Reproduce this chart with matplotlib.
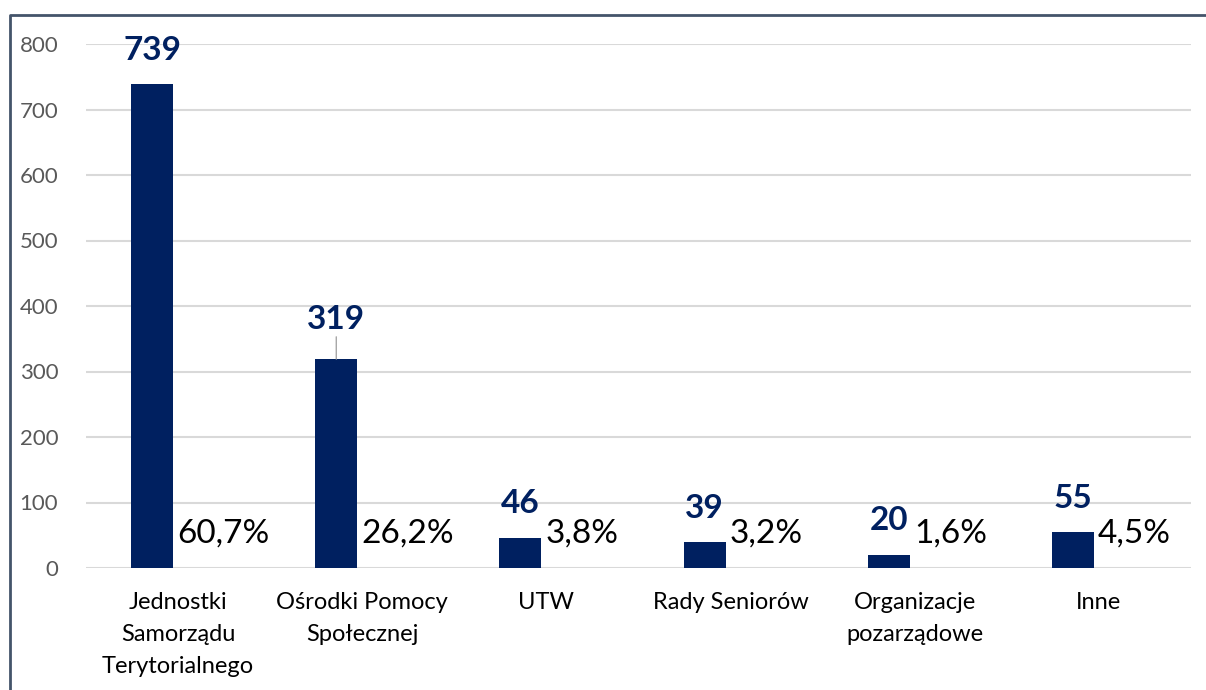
import matplotlib
matplotlib.use("Agg")
import matplotlib.pyplot as plt
from matplotlib.lines import Line2D
import numpy as np

categories = ["Jednostki\nSamorządu\nTerytorialnego", "Ośrodki Pomocy\nSpołecznej", "UTW",
              "Rady Seniorów", "Organizacje\npozarządowe", "Inne"]
values = [739, 319, 46, 39, 20, 55]
percent_labels = ["60,7%", "26,2%", "3,8%", "3,2%", "1,6%", "4,5%"]
yticks = [0, 100, 200, 300, 400, 500, 600, 700, 800]

plt.rcParams['font.family'] = ['Lato', 'DejaVu Sans']

W, H = 1206, 690
fig = plt.figure(figsize=(W / 100, H / 100), dpi=100)
ax = fig.add_axes([86 / W, 1 - 568 / H, (1191 - 86) / W, (568 - 44) / H])

navy = "#002060"
x = np.arange(len(categories))
bar_off = -0.141
bar_w = 0.228
ax.bar(x + bar_off, values, width=bar_w, color=navy, zorder=3)

for i, v in enumerate(values):
    if i == 1:
        ax.annotate(str(v), xy=(i + bar_off, v), xytext=(0, 18), textcoords="offset points",
                    ha="center", va="bottom", fontsize=24, fontweight="bold", color=navy,
                    arrowprops=dict(arrowstyle="-", color="#a6a6a6", lw=1, shrinkA=0, shrinkB=0),
                    zorder=4)
    else:
        ax.annotate(str(v), xy=(i + bar_off, v), xytext=(0, 14), textcoords="offset points",
                    ha="center", va="bottom", fontsize=24, fontweight="bold", color=navy, zorder=4)
    ax.annotate(percent_labels[i], xy=(i - 0.005, 0), xytext=(0, 25), textcoords="offset points",
                ha="left", va="center", fontsize=24, color="black", zorder=4)

ax.set_xlim(-0.5, len(categories) - 0.5)
ax.set_ylim(0, 800)
ax.set_yticks(yticks)
ax.set_yticklabels([str(t) for t in yticks], fontsize=16, color="#595959")
ax.set_xticks(x)
ax.set_xticklabels(categories, fontsize=17, color="black", linespacing=1.65)
ax.tick_params(axis="both", length=0)
ax.tick_params(axis="y", pad=20)
ax.tick_params(axis="x", pad=17)
ax.grid(axis="y", color="#d9d9d9", lw=1.5, zorder=0)
ax.set_axisbelow(True)
for s in ax.spines.values():
    s.set_visible(False)

fig.add_artist(Line2D([10 / W, 10 / W, 1.0], [0, 1 - 15 / H, 1 - 15 / H],
                      transform=fig.transFigure, color="#44546a", lw=2))

fig.savefig("out.png", dpi=100)
